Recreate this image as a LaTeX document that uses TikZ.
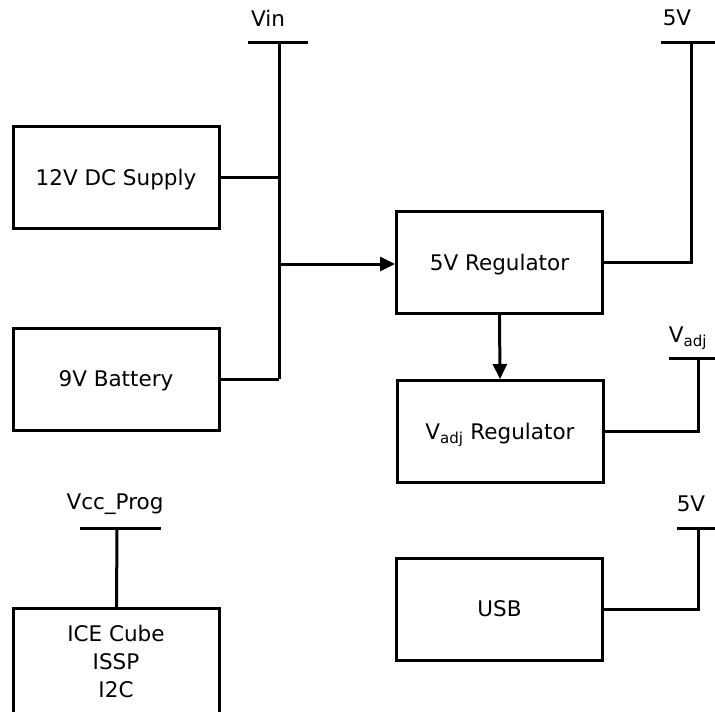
\documentclass[tikz,border=0pt]{standalone}
\usepackage{fontspec}
\setmainfont{DejaVu Sans}
\usetikzlibrary{arrows.meta}
\begin{document}
\begin{tikzpicture}[x=1pt,y=-1pt,
  blk/.style={draw,line width=3pt,rectangle,minimum width=206pt,minimum height=102pt,inner sep=0pt,font=\fontsize{21.5}{28}\selectfont,align=center,text depth=0pt},
  wire/.style={line width=3pt},
  arr/.style={line width=3pt,-{Triangle[length=15pt,width=14pt]}},
  lbl/.style={font=\fontsize{21.5}{26}\selectfont,inner sep=0pt}]
\useasboundingbox (0,0) rectangle (715,712);
\clip (0,0) rectangle (715,712);
% blocks
\node[blk] (dc) at (116,177) {12V DC Supply};
\node[blk] (bat) at (116,379) {9V Battery};
\node[blk] (reg5) at (499.5,262.5) {5V Regulator};
\node[blk] (regadj) at (500,431.5) {V\textsubscript{adj} Regulator};
\node[blk] (usb) at (499.5,609) {USB};
\node[blk,minimum height=130pt,anchor=north] (ice) at (116.5,607) {};
\node[lbl,align=center,font=\fontsize{21.5}{28}\selectfont] (icetxt) at (116,661) {ICE Cube\\ISSP\\I2C};
% rail T-bars
\coordinate (vinbar) at (279,42);
\draw[wire] (248,42) -- (308,42);
\node[lbl] (vinl) at (268,18) {Vin};
\coordinate (v5bar) at (691,42);
\draw[wire] (661,42) -- (715,42);
\node[lbl] (v5l) at (677,18) {5V};
\coordinate (vadjbar) at (698,358);
\draw[wire] (669,358) -- (715,358);
\node[lbl] (vadjl) at (688,338) {V\textsubscript{adj}};
\coordinate (usbbar) at (698,528);
\draw[wire] (677,528) -- (715,528);
\node[lbl] (usbl) at (691,504) {5V};
\coordinate (vccbar) at (117,528);
\draw[wire] (80,528) -- (161,528);
\node[lbl] (vccl) at (115,504) {Vcc\_Prog};
% Vin bus
\coordinate (busbot) at (279,379);
\coordinate (busmid) at (279,264);
\draw[wire] (vinbar) -- (busbot);
\draw[wire] (dc.east) -- (dc.east -| vinbar);
\draw[wire] (bat.east) -- (busbot);
\draw[arr] (busmid) -- (reg5.west |- busmid);
% outputs
\draw[wire] (reg5.east) -| (v5bar);
\draw[arr] (reg5.south) -- (regadj.north);
\draw[wire] (regadj.east) -| (vadjbar);
\draw[wire] (usb.east) -| (usbbar);
\draw[wire] (ice.north) -- (vccbar);
\end{tikzpicture}
\end{document}
